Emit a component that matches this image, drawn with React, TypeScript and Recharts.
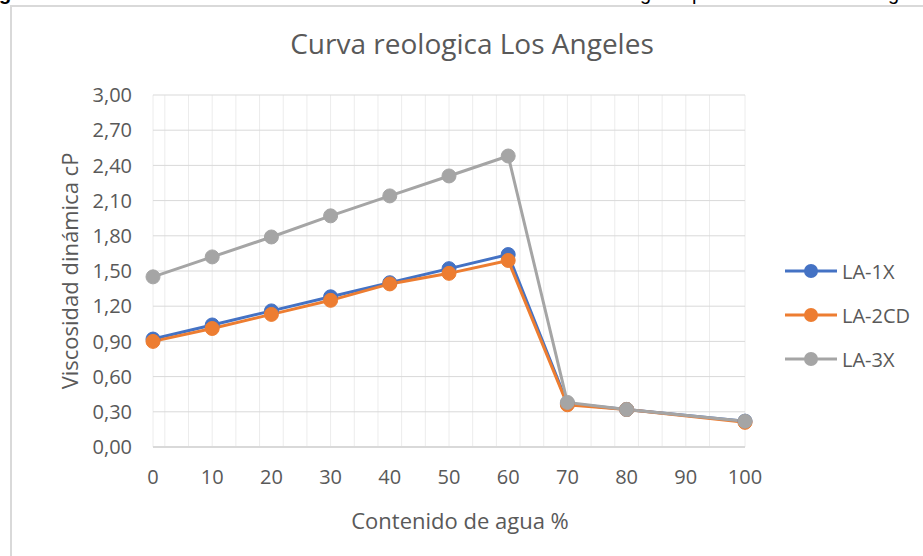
import React from "react";
import { CartesianGrid, Legend, Line, LineChart, XAxis, YAxis } from "recharts";

const waterContent = [0, 10, 20, 30, 40, 50, 60, 70, 80, 100];
const la1x = [0.92, 1.04, 1.16, 1.28, 1.4, 1.52, 1.64, 0.37, 0.32, 0.22];
const la2cd = [0.9, 1.01, 1.13, 1.25, 1.39, 1.48, 1.59, 0.36, 0.32, 0.21];
const la3x = [1.45, 1.62, 1.79, 1.97, 2.14, 2.31, 2.48, 0.38, 0.32, 0.22];

const xTicks = [0, 10, 20, 30, 40, 50, 60, 70, 80, 90, 100];
const yTicks = [0, 0.3, 0.6, 0.9, 1.2, 1.5, 1.8, 2.1, 2.4, 2.7, 3.0];
// minor vertical gridlines every 2 units
const minorTicks = Array.from({ length: 51 }, (_, i) => i * 2);

const seriesList = [
  { key: "LA-1X", values: la1x, color: "#4472C4" },
  { key: "LA-2CD", values: la2cd, color: "#ED7D31" },
  { key: "LA-3X", values: la3x, color: "#A5A5A5" },
];

const chartData = waterContent.map((x, i) => {
  const row: any = { x };
  seriesList.forEach(s => {
    row[s.key] = s.values[i];
  });
  return row;
});

const FONT = "'Open Sans', sans-serif";
const TEXT = "#595959";

const fmt = (v: number) => v.toFixed(2).replace(".", ",");

const CustomLegend = () => (
  <div style={{ fontFamily: FONT, fontSize: 20, color: TEXT }}>
    {seriesList.map(s => (
      <div key={s.key} style={{ display: "flex", alignItems: "center", height: 44 }}>
        <svg width={56} height={16}>
          <line x1={0} y1={8} x2={52} y2={8} stroke={s.color} strokeWidth={3} />
          <circle cx={26} cy={8} r={7} fill={s.color} />
        </svg>
        <span style={{ marginLeft: 1 }}>{s.key}</span>
      </div>
    ))}
  </div>
);

export default function App() {
  return (
    <div style={{ position: "absolute", left: 0, top: 0, width: 923, height: 556, background: "#fff", overflow: "hidden" }}>
      <div
        style={{
          position: "absolute",
          left: 10,
          top: 5,
          width: 913,
          height: 551,
          borderTop: "2px solid #d9d9d9",
          borderLeft: "2px solid #d9d9d9",
        }}
      />
      <div style={{ position: "absolute", left: 0, top: 0, width: 923, height: 5, overflow: "hidden", fontFamily: "Arial, sans-serif", fontSize: 20, color: "#000" }}>
        <span style={{ position: "absolute", left: -1, top: -18, fontWeight: "bold" }}>g</span>
        <span style={{ position: "absolute", left: 640, top: -18 }}>g</span>
        <span style={{ position: "absolute", left: 692, top: -18 }}>p</span>
        <span style={{ position: "absolute", left: 888, top: -18 }}>g</span>
      </div>
      <div
        style={{
          position: "absolute",
          left: 0,
          top: 24,
          width: 944,
          textAlign: "center",
          fontFamily: FONT,
          fontSize: 28,
          color: TEXT,
        }}
      >
        Curva reologica Los Angeles
      </div>
      <div style={{ position: "absolute", left: 0, top: 0 }}>
        <LineChart width={923} height={556} data={chartData} margin={{ top: 95, right: 178, bottom: 49, left: 0 }}>
          <CartesianGrid xAxisId="minor" horizontal={false} stroke="#ececec" strokeWidth={1} />
          <CartesianGrid vertical={false} stroke="#d9d9d9" strokeWidth={1} />
          <XAxis xAxisId="minor" dataKey="x" type="number" domain={[0, 100]} ticks={minorTicks} hide />
          <XAxis
            dataKey="x"
            type="number"
            domain={[0, 100]}
            ticks={xTicks}
            height={60}
            tickSize={0}
            tickMargin={23}
            axisLine={{ stroke: "#d9d9d9", strokeWidth: 2 }}
            tick={{ fill: TEXT, fontSize: 20, fontFamily: FONT }}
            label={{
              value: "Contenido de agua %",
              position: "insideBottom",
              offset: -22,
              dx: 11,
              style: { fill: TEXT, fontSize: 22, fontFamily: FONT },
            }}
          />
          <YAxis
            type="number"
            domain={[0, 3]}
            ticks={yTicks}
            width={153}
            tickSize={0}
            tickMargin={21}
            axisLine={false}
            tickFormatter={fmt}
            tick={{ fill: TEXT, fontSize: 20, fontFamily: FONT }}
            label={{
              value: "Viscosidad dinámica cP",
              angle: -90,
              position: "insideLeft",
              offset: 70,
              style: { fill: TEXT, fontSize: 22, fontFamily: FONT, textAnchor: "middle" },
            }}
          />
          <Legend
            layout="vertical"
            align="center"
            verticalAlign="middle"
            content={<CustomLegend />}
            wrapperStyle={{ left: 785, top: 249, width: 138 }}
          />
          {seriesList.map(s => (
            <Line
              key={s.key}
              dataKey={s.key}
              name={s.key}
              stroke={s.color}
              strokeWidth={3}
              dot={{ r: 7, fill: s.color, stroke: s.color, strokeWidth: 1 }}
              activeDot={false}
              isAnimationActive={false}
            />
          ))}
        </LineChart>
      </div>
    </div>
  );
}
